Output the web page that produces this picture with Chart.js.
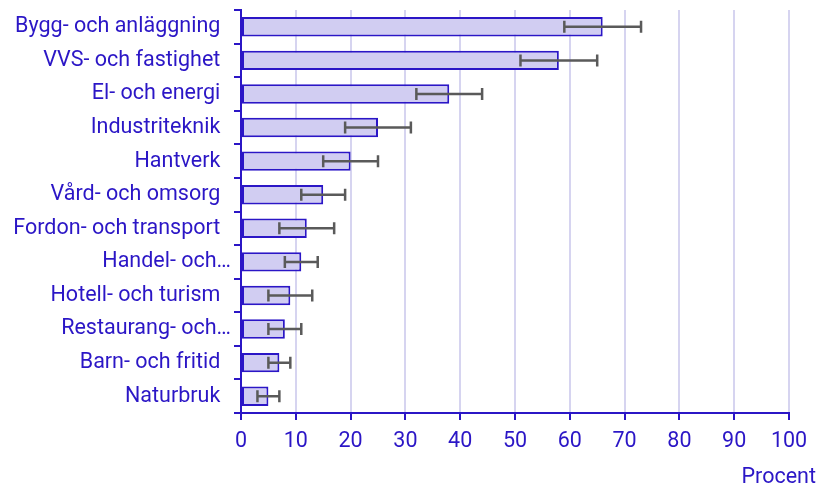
<!DOCTYPE html>
<html>
<head>
<meta charset="utf-8">
<script src="https://cdn.jsdelivr.net/npm/chart.js@4.4.1/dist/chart.umd.min.js"></script>
<style>
  html, body { margin: 0; padding: 0; background: #fff; }
  #wrap { width: 819px; height: 488px; }
</style>
</head>
<body>
<div id="wrap"><canvas id="barChart"></canvas></div>
<script>
const categories = [
  "Bygg- och anläggning",
  "VVS- och fastighet",
  "El- och energi",
  "Industriteknik",
  "Hantverk",
  "Vård- och omsorg",
  "Fordon- och transport",
  "Handel- och…",
  "Hotell- och turism",
  "Restaurang- och…",
  "Barn- och fritid",
  "Naturbruk",
];
const values = [66, 58, 38, 25, 20, 15, 12, 11, 9, 8, 7, 5];
const errLow = [59, 51, 32, 19, 15, 11, 7, 8, 5, 5, 5, 3];
const errHigh = [73, 65, 44, 31, 25, 19, 17, 14, 13, 11, 9, 7];
const xTicks = [0, 10, 20, 30, 40, 50, 60, 70, 80, 90, 100];

const blue = "#2b16c6";
const font = { family: "Roboto", size: 21.5 };

// error bars drawn through the x scale
const errorBars = {
  id: "errorBars",
  afterDatasetsDraw(chart) {
    const { ctx, scales } = chart;
    const meta = chart.getDatasetMeta(0);
    ctx.save();
    ctx.strokeStyle = "#5a5a5a";
    ctx.lineWidth = 2.5;
    meta.data.forEach((bar, i) => {
      const x1 = scales.x.getPixelForValue(errLow[i]);
      const x2 = scales.x.getPixelForValue(errHigh[i]);
      const y = bar.y;
      ctx.beginPath();
      ctx.moveTo(x1, y);
      ctx.lineTo(x2, y);
      ctx.moveTo(x1, y - 6);
      ctx.lineTo(x1, y + 6);
      ctx.moveTo(x2, y - 6);
      ctx.lineTo(x2, y + 6);
      ctx.stroke();
    });
    ctx.restore();
  },
};

const axisTitle = {
  id: "axisTitle",
  afterDraw(chart) {
    const { ctx } = chart;
    ctx.save();
    ctx.font = "21.5px Roboto";
    ctx.fillStyle = blue;
    ctx.textAlign = "right";
    ctx.textBaseline = "middle";
    ctx.fillText("Procent", chart.width - 3, 478);
    ctx.restore();
  },
};

const ctx = document.getElementById("barChart");

new Chart(ctx, {
  type: "bar",
  data: {
    labels: categories,
    datasets: [
      {
        data: values,
        backgroundColor: "#d1cdf2",
        borderColor: blue,
        borderWidth: 2,
        borderSkipped: false,
        barPercentage: 0.58,
        categoryPercentage: 1,
      },
    ],
  },
  plugins: [errorBars, axisTitle],
  options: {
    indexAxis: "y",
    responsive: true,
    maintainAspectRatio: false,
    animation: false,
    layout: { padding: { left: 10, right: 30, top: 10, bottom: 0 } },
    scales: {
      x: {
        min: 0,
        max: 100,
        afterBuildTicks: (s) => { s.ticks = xTicks.map((v) => ({ value: v })); },
        afterFit: (s) => { s.height = 75; },
        ticks: { color: blue, font: font, padding: 9 },
        grid: {
          color: "#d6d4f0",
          lineWidth: 2,
          tickColor: blue,
          tickLength: 7,
        },
        border: { display: true, color: blue, width: 2 },
      },
      y: {
        afterFit: (s) => {
          s.width = 231;
          s.paddingTop = 0;
          s.paddingBottom = 0;
        },
        ticks: {
          color: blue,
          font: font,
          padding: 3,
          callback: function (v) {
            const label = this.getLabelForValue(v);
            return label.endsWith("…") ? label : label + "  ";
          },
        },
        grid: {
          drawOnChartArea: false,
          color: blue,
          lineWidth: 2,
          tickLength: 7,
          offset: true,
        },
        border: { display: true, color: blue, width: 2 },
      },
    },
    plugins: {
      legend: { display: false },
      tooltip: { enabled: false },
    },
  },
});
</script>
</body>
</html>
